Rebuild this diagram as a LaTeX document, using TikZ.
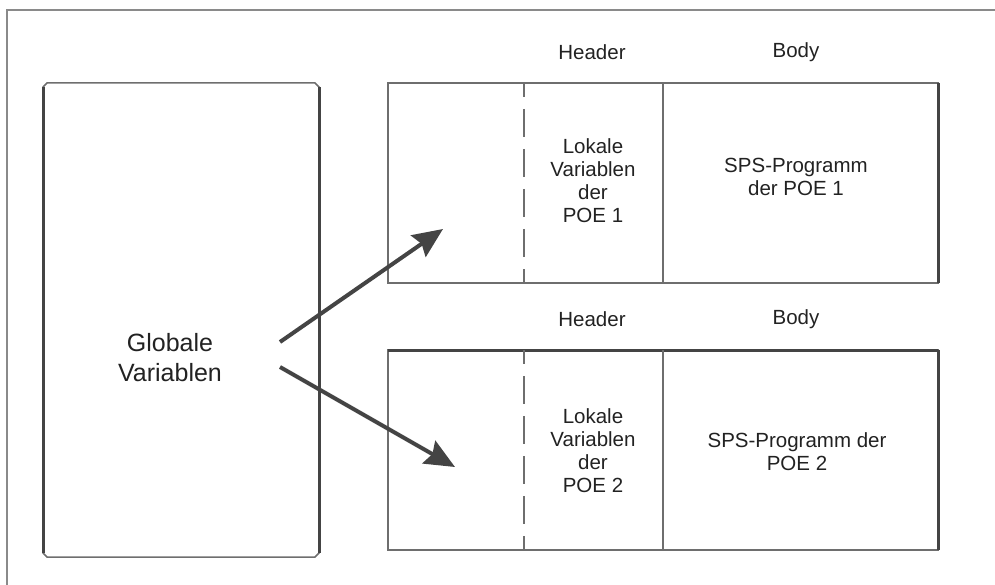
\documentclass[tikz,border=0pt]{standalone}
\usepackage{fontspec}
\setmainfont{Liberation Sans}
\usetikzlibrary{arrows.meta}
\definecolor{frame}{HTML}{8A8A8A}
\definecolor{thin}{HTML}{6E6E6E}
\definecolor{thick}{HTML}{444444}
\definecolor{txt}{HTML}{222222}
\tikzset{
  thinline/.style={draw=thin, line width=1.5pt},
  thickline/.style={draw=thick, line width=3pt},
  dashline/.style={draw=thin, line width=1.5pt, dash pattern=on 28pt off 12pt, dash phase=14pt},
  boxnode/.style={draw=none, inner sep=0pt, outer sep=0pt},
  lbl/.style={text=txt, font=\fontsize{20.5}{23}\selectfont, align=center, inner sep=0pt},
  biglbl/.style={text=txt, font=\fontsize{25}{30}\selectfont, align=center, inner sep=0pt},
  arr/.style={draw=thick, line width=4pt, -{Stealth[length=30pt, width=26pt, inset=4pt]}},
}
\begin{document}
\begin{tikzpicture}[x=1pt, y=-1pt]
\useasboundingbox (0,0) rectangle (995,585);
% outer frame (top and left edges only)
\coordinate (fbl) at (7,585);
\coordinate (ftl) at (7,10);
\coordinate (ftr) at (995,10);
\draw[draw=frame, line width=2pt] (fbl) -- (ftl) -- (ftr);

% left box: Globale Variablen
\node[boxnode, minimum width=276pt, minimum height=474pt] (glob) at (181,320) {};
\draw[thinline] ([xshift=4pt]glob.north west) -- ([xshift=-4pt]glob.north east)
  -- ([yshift=-4pt]glob.north east) -- ([yshift=4pt]glob.south east)
  -- ([xshift=-4pt]glob.south east) -- ([xshift=4pt]glob.south west)
  -- ([yshift=4pt]glob.south west) -- ([yshift=-4pt]glob.north west) -- cycle;
\draw[thickline] ([yshift=-4pt]glob.north west) -- ([yshift=4pt]glob.south west);
\draw[thickline] ([yshift=-4pt]glob.north east) -- ([yshift=4pt]glob.south east);
\node[biglbl] (globtxt) at (170,358) {Globale\\Variablen};

% upper POE box
\node[boxnode, minimum width=550pt, minimum height=200pt] (p1) at (663,183) {};
\draw[thinline] (p1.north west) rectangle (p1.south east);
\draw[thickline] (p1.north east) -- (p1.south east);
\coordinate (d1t) at (524,83);
\coordinate (d1b) at (524,283);
\draw[dashline] (d1t) -- (d1b);
\coordinate (s1t) at (663,83);
\coordinate (s1b) at (663,283);
\draw[thinline] (s1t) -- (s1b);
\node[lbl] (h1) at (592,52) {Header};
\node[lbl] (b1) at (796,52) {Body};
\node[lbl] (l1) at (593,180.5) {Lokale\\Variablen\\der\\POE 1};
\node[lbl] (sps1) at (796,177) {SPS-Programm\\der POE 1};

% lower POE box
\node[boxnode, minimum width=550pt, minimum height=200pt] (p2) at (663,450) {};
\draw[thinline] (p2.north west) rectangle (p2.south east);
\draw[thickline] (p2.north east) -- (p2.south east);
\draw[thickline] (p2.north west) -- (p2.north east);
\coordinate (d2t) at (524,350);
\coordinate (d2b) at (524,550);
\draw[dashline] (d2t) -- (d2b);
\coordinate (s2t) at (663,350);
\coordinate (s2b) at (663,550);
\draw[thinline] (s2t) -- (s2b);
\node[lbl] (h2) at (592,319) {Header};
\node[lbl] (b2) at (796,319) {Body};
\node[lbl] (l2) at (593,450.5) {Lokale\\Variablen\\der\\POE 2};
\node[lbl] (sps2) at (797,452) {SPS-Programm der\\POE 2};

% arrows
\coordinate (a1s) at (280,342);
\coordinate (a1e) at (443,229);
\coordinate (a2s) at (280,367);
\coordinate (a2e) at (455,467);
\draw[arr] (a1s) -- (a1e);
\draw[arr] (a2s) -- (a2e);
\end{tikzpicture}
\end{document}
